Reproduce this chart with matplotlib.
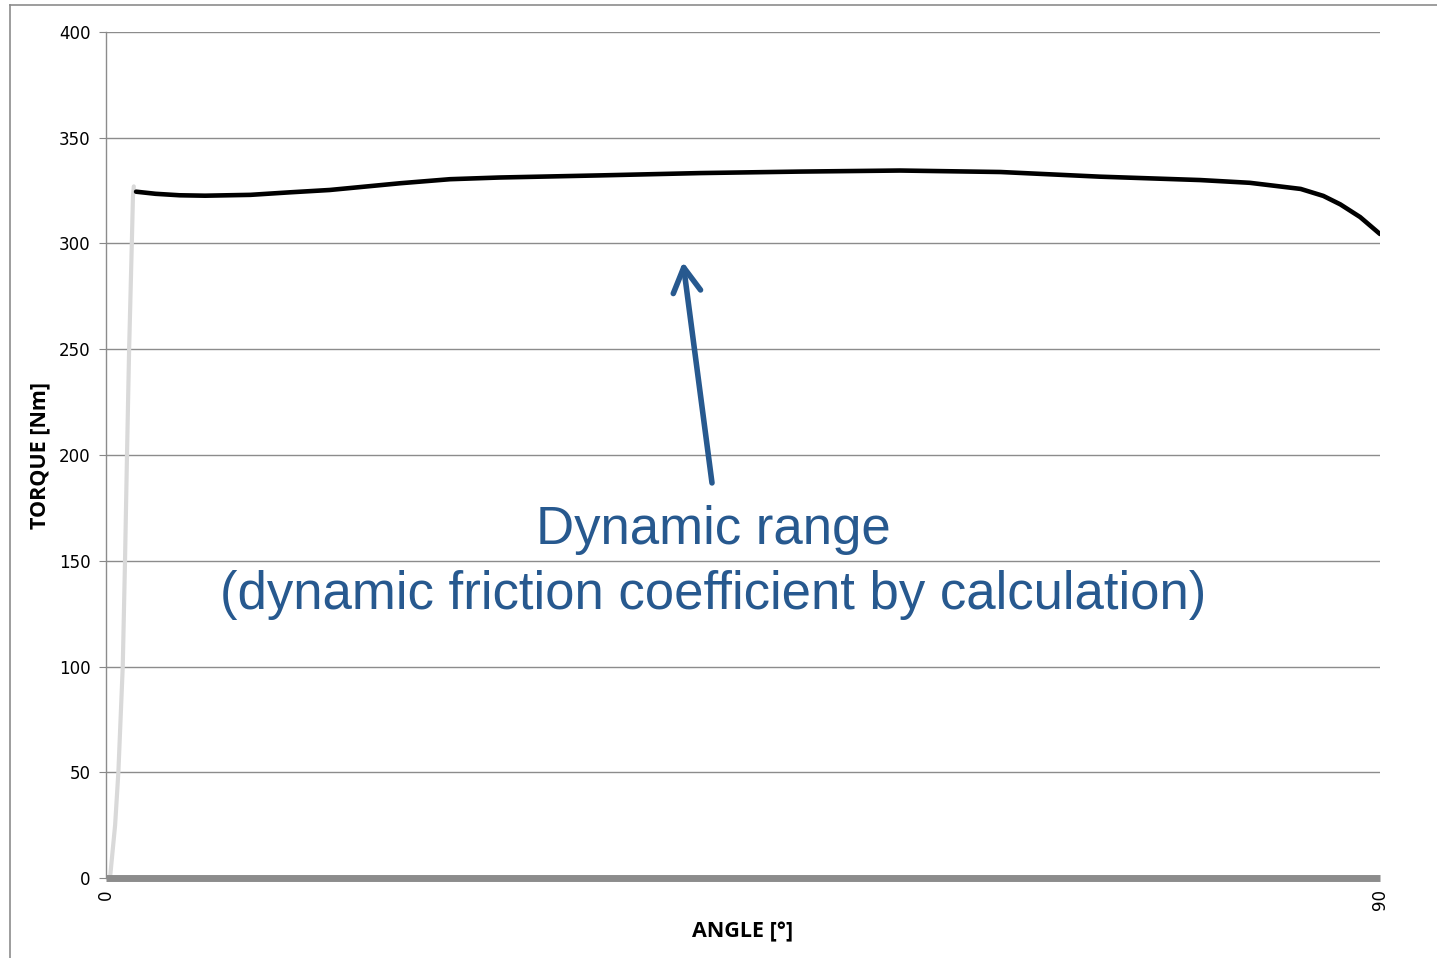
# -*- coding: utf-8 -*-
import matplotlib
matplotlib.use('Agg')
import matplotlib.pyplot as plt
from matplotlib.lines import Line2D

# 加载段（灰色）
load_angle = [0.28, 0.64, 0.87, 1.18, 1.34, 1.48, 1.63, 1.82, 1.90, 1.96]
load_torque = [0, 25, 50, 100, 150, 200, 250, 300, 322, 327]

# 动态段（黑色）
dyn_angle = [2.12, 3.5, 5.2, 7.0, 10.2, 13.0, 15.8, 20.8, 24.3, 27.8, 34.9, 42.0,
             49.0, 56.1, 63.2, 70.2, 77.3, 80.8, 84.4, 86.0, 87.2, 88.6, 90.0]
dyn_torque = [324.5, 323.5, 322.8, 322.6, 323.0, 324.2, 325.3, 328.5, 330.4, 331.2, 332.2, 333.3,
              334.0, 334.5, 333.8, 331.6, 330.0, 328.7, 325.8, 322.5, 318.5, 312.5, 304.5]

y_ticks = [0, 50, 100, 150, 200, 250, 300, 350, 400]
x_ticks = [0, 90]

blue = '#27598f'

fig = plt.figure(figsize=(14.37, 9.58), dpi=100)
ax = fig.add_axes([0.0738, 0.0835, 0.8865, 0.8831])

ax.plot(load_angle, load_torque, color='#d9d9d9', lw=3, solid_capstyle='round', zorder=3)
ax.plot(dyn_angle, dyn_torque, color='black', lw=3.3, solid_capstyle='round', zorder=4)

ax.set_xlim(0, 90)
ax.set_ylim(0, 400)
ax.set_yticks(y_ticks)
ax.set_xticks(x_ticks)
ax.set_xticklabels([str(v) for v in x_ticks], rotation=90)
ax.tick_params(axis='y', length=5, color='#888888', labelsize=12, pad=6)
ax.tick_params(axis='x', length=0, labelsize=12, pad=8)
ax.grid(axis='y', color='#8c8c8c', lw=1)
ax.set_axisbelow(True)

for s in ['top', 'right']:
    ax.spines[s].set_visible(False)
ax.spines['left'].set_color('#8c8c8c')
ax.spines['left'].set_linewidth(1)
ax.spines['bottom'].set_color('#8c8c8c')
ax.spines['bottom'].set_linewidth(5)
ax.spines['bottom'].set_capstyle('butt')
ax.spines['bottom'].set_zorder(5)

ax.set_xlabel('ANGLE [°]', fontsize=15.5, fontweight='bold', family='Open Sans', labelpad=8)
ax.set_ylabel('TORQUE [Nm]', fontsize=15.5, fontweight='bold', family='Open Sans', labelpad=6)

ax.annotate('', xy=(40.76, 291.3), xytext=(42.81, 186.8),
            arrowprops=dict(arrowstyle='->,head_length=0.8,head_width=0.45', mutation_scale=22,
                            color=blue, lw=4, shrinkA=0, shrinkB=0))
ax.text(42.88, 164.5, 'Dynamic range', color=blue, fontsize=38, family='Liberation Sans',
        ha='center', va='center')
ax.text(42.9, 133.8, '(dynamic friction coefficient by calculation)', color=blue, fontsize=38,
        family='Liberation Sans', ha='center', va='center')

# 外框
fig.add_artist(Line2D([10/1437, 1], [1-5/958, 1-5/958], color='#8c8c8c', lw=1.2))
fig.add_artist(Line2D([10/1437, 10/1437], [0, 1-5/958], color='#8c8c8c', lw=1.2))

fig.savefig('out.png', dpi=100, facecolor='white')
